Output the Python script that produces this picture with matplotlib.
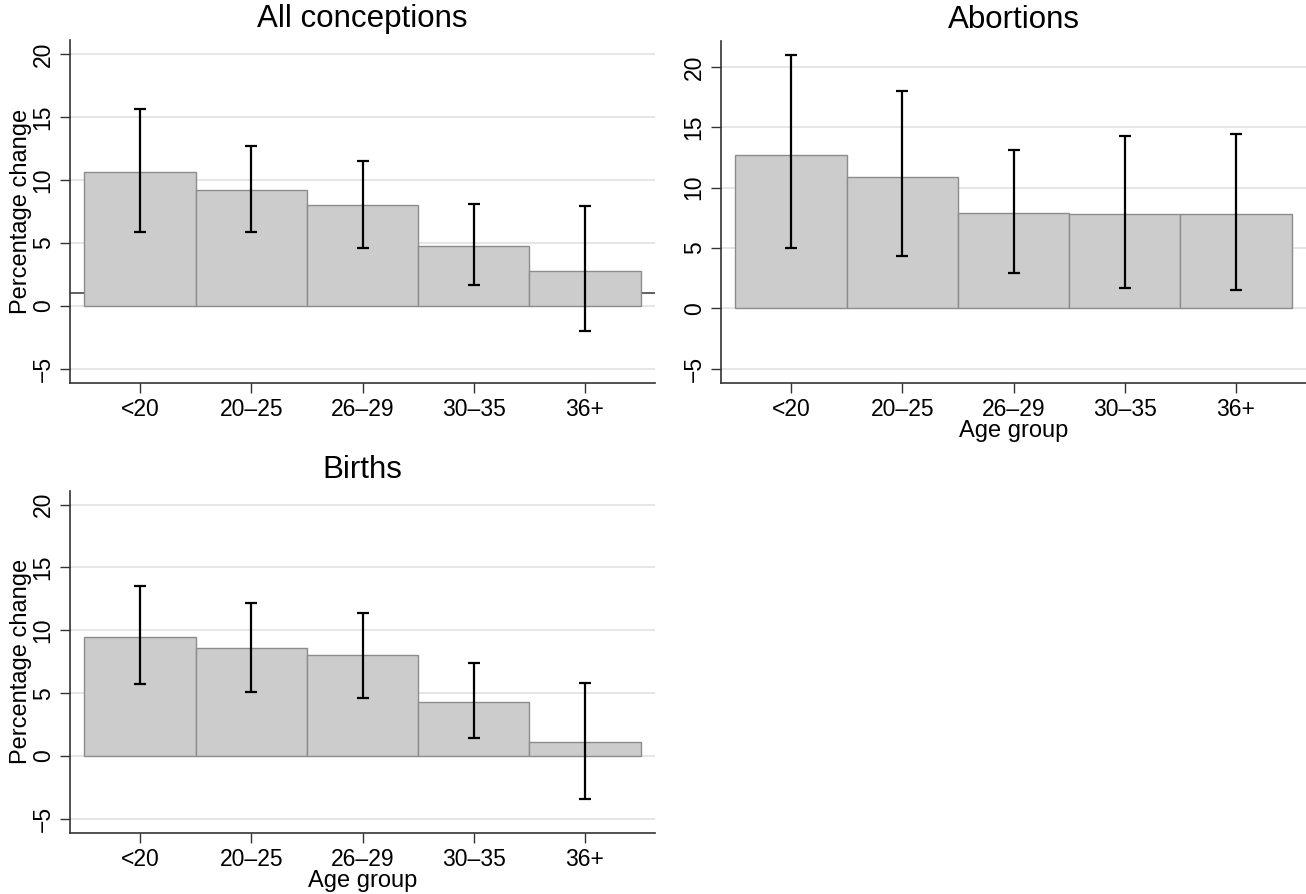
import matplotlib
matplotlib.use("Agg")
import matplotlib.pyplot as plt
import numpy as np

plt.rcParams['font.family'] = ['Liberation Sans', 'DejaVu Sans']

age_groups = ["<20", "20–25", "26–29", "30–35", "36+"]

conc_vals = [10.6, 9.2, 8.0, 4.8, 2.8]
conc_lo = [5.9, 5.9, 4.6, 1.7, -2.0]
conc_hi = [15.6, 12.7, 11.5, 8.1, 7.9]

abort_vals = [12.7, 10.9, 7.9, 7.8, 7.8]
abort_lo = [5.0, 4.3, 2.9, 1.7, 1.5]
abort_hi = [21.0, 18.0, 13.1, 14.3, 14.5]

birth_vals = [9.5, 8.6, 8.0, 4.3, 1.1]
birth_lo = [5.7, 5.1, 4.6, 1.4, -3.4]
birth_hi = [13.5, 12.2, 11.4, 7.4, 5.8]

ref_line_conc = 1.0
yticks = [-5, 0, 5, 10, 15, 20]

W, H = 1306, 894
fig = plt.figure(figsize=(W / 100, H / 100), dpi=100)

def px_axes(x0, y0, x1, y1):
    return fig.add_axes([x0 / W, 1 - y1 / H, (x1 - x0) / W, (y1 - y0) / H])

def panel(ax, title, vals, lo, hi, ylim, ylabel, xlabel, refline=None):
    x = np.arange(1, len(vals) + 1)
    ax.set_xlim(0.37, 5.63)
    ax.set_ylim(*ylim)
    ax.set_yticks(yticks)
    ax.grid(axis='y', color='#e6e6e6', linewidth=1.4, zorder=0)
    ax.set_axisbelow(True)
    if refline is not None:
        ax.axhline(refline, color='#555555', linewidth=1.3, zorder=1)
    ax.bar(x, vals, width=1.0, color='#cccccc', edgecolor='#8c8c8c',
           linewidth=1.0, zorder=2)
    vals_a = np.array(vals)
    yerr = np.vstack([vals_a - np.array(lo), np.array(hi) - vals_a])
    ax.errorbar(x, vals, yerr=yerr, fmt='none', ecolor='black',
                elinewidth=1.6, capsize=4, capthick=1.6, zorder=3)
    ax.set_xticks(x)
    ax.set_xticklabels(age_groups)
    for s in ['top', 'right']:
        ax.spines[s].set_visible(False)
    for s in ['left', 'bottom']:
        ax.spines[s].set_color('#333333')
        ax.spines[s].set_linewidth(1.2)
    ax.tick_params(axis='both', length=7, width=1.0, color='#333333',
                   labelsize=16.5, pad=4)
    ax.tick_params(axis='y', labelrotation=90)
    for lab in ax.get_yticklabels():
        lab.set_va('center')
    ax.set_title(title, fontsize=22.5, pad=9)
    if ylabel:
        ax.set_ylabel(ylabel, fontsize=17, labelpad=0)
    if xlabel:
        ax.set_xlabel(xlabel, fontsize=17, labelpad=-1)

ax1 = px_axes(70, 40, 655, 383)
panel(ax1, "All conceptions", conc_vals, conc_lo, conc_hi, (-6.1, 21.1),
      "Percentage change", None, refline=ref_line_conc)

ax2 = px_axes(721, 40.7, 1306, 383)
panel(ax2, "Abortions", abort_vals, abort_lo, abort_hi, (-6.2, 22.2),
      None, "Age group")

ax3 = px_axes(70, 490.7, 655, 832.7)
panel(ax3, "Births", birth_vals, birth_lo, birth_hi, (-6.1, 21.1),
      "Percentage change", "Age group")

fig.savefig("out.png", dpi=100)
